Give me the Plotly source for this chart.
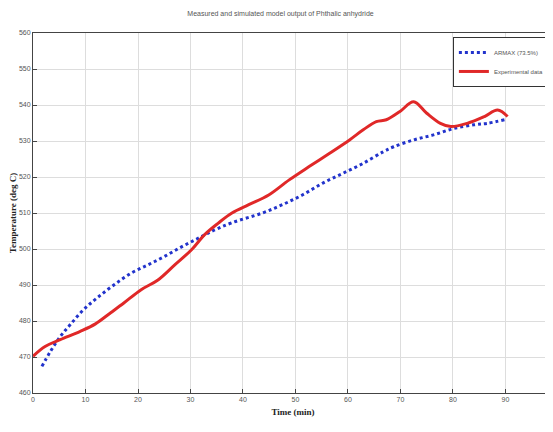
import plotly.graph_objects as go

# Experimental data
exp_time = [0, 2.3, 5.2, 9, 11.9, 14.8, 17.3, 20.6, 23.8, 27, 30.2, 32.7, 35.3, 37.9,
            41.1, 44.9, 48.8, 52.6, 56.5, 60.3, 62.9, 65.4, 67.3, 69.9, 72.5, 75,
            77.6, 79.6, 82.7, 86, 88.5, 90.4]
exp_temp = [470.2, 472.9, 474.8, 477.1, 479.2, 482.3, 485, 488.7, 491.4, 495.6, 499.8,
            504, 507.2, 510, 512.3, 515, 519.2, 522.9, 526.6, 530.3, 533.1, 535.4,
            535.9, 538.2, 540.9, 537.7, 534.9, 534, 534.9, 536.8, 538.6, 536.8]

# ARMAX model output
model_time = [1.7, 3.3, 5.2, 7.1, 9.6, 12.2, 15.4, 18.7, 21.9, 25, 28.3, 31.5, 34.6,
              37.9, 43.7, 47.5, 51.3, 55.2, 59, 62.9, 66.7, 68.7, 72.5, 76.3, 80.2,
              84, 86.5, 89.8]
model_temp = [467.4, 471.5, 475.7, 479, 483.1, 486.4, 490, 493.3, 495.6, 497.9, 500.6,
              503, 505.3, 507.3, 510, 512.3, 515, 518.3, 521, 523.8, 527, 528.4, 530.3,
              531.7, 533.5, 534.5, 534.9, 535.9]

x_ticks = list(range(0, 101, 10))
y_ticks = list(range(460, 561, 10))

fig = go.Figure()
fig.add_trace(go.Scatter(x=model_time, y=model_temp, mode="lines", name="ARMAX (73.5%)",
                         line=dict(color="#2233cc", width=3, dash="dot", shape="spline")))
fig.add_trace(go.Scatter(x=exp_time, y=exp_temp, mode="lines", name="Experimental data",
                         line=dict(color="#e02828", width=3, shape="spline")))

axis_common = dict(showline=True, linecolor="#444", linewidth=1, mirror=True,
                   showgrid=True, gridcolor="#dddddd", gridwidth=1, zeroline=False,
                   ticks="inside", ticklen=4, tickcolor="#444", automargin=False,
                   tickfont=dict(family="Liberation Sans", size=7, color="#555"))

fig.update_layout(
    width=545, height=424,
    margin=dict(l=25, r=0, t=25, b=39),
    paper_bgcolor="white", plot_bgcolor="white",
    title=dict(text="Measured and simulated model output of Phthalic anhydride",
               x=0.5, xanchor="center", y=0.986, yanchor="middle",
               font=dict(family="Liberation Sans", size=7, color="#555")),
    xaxis=dict(range=[0, 99.05], tickvals=x_ticks,
               title=dict(text="<b>Time (min)</b>", standoff=6,
                          font=dict(family="Liberation Serif", size=9, color="#222")),
               **axis_common),
    yaxis=dict(range=[460, 560], tickvals=y_ticks,
               title=dict(text="<b>Temperature (deg C)</b>", standoff=2,
                          font=dict(family="Liberation Serif", size=9, color="#222")),
               **axis_common),
    legend=dict(x=0.994, y=0.989, xanchor="right", yanchor="top",
                bgcolor="white", bordercolor="#333", borderwidth=1,
                font=dict(family="Liberation Sans", size=6, color="#555"),
                itemwidth=30, tracegroupgap=0),
    showlegend=True,
)

fig.write_html("out.html")
